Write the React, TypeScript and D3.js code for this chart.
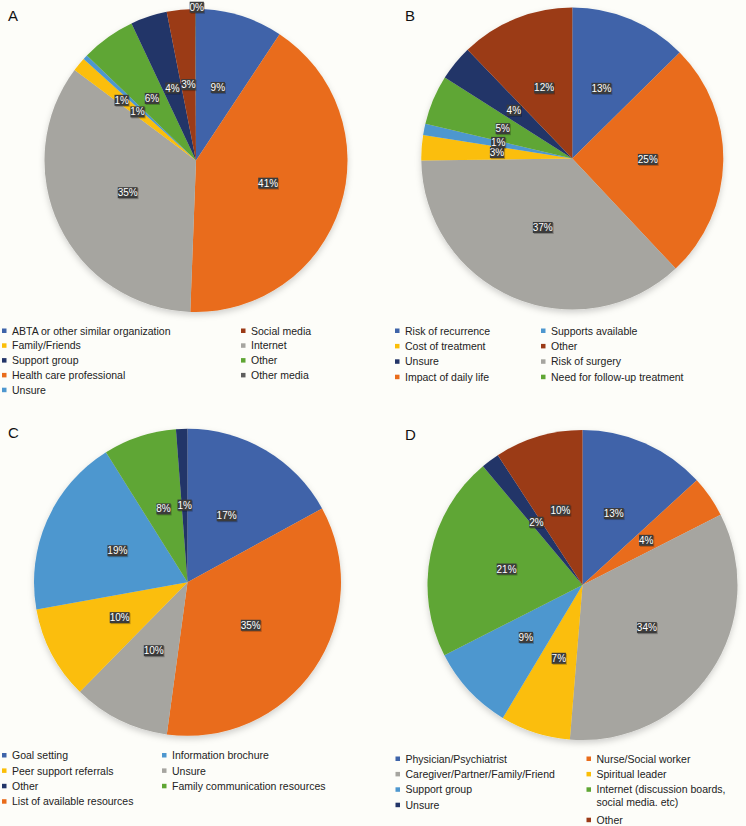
import React from 'react';
import * as d3 from 'd3';

// colours used across the four panels (Excel office palette)
const BLUE = '#3f64a9';
const ORANGE = '#e96c1b';
const GRAY = '#a6a5a0';
const YELLOW = '#fbbe07';
const LIGHTBLUE = '#4e97cf';
const GREEN = '#5fa634';
const NAVY = '#233568';
const BROWN = '#9b3a17';
const DARKGRAY = '#5e5e5e';

// Panel A - sources of information
const aNames = [
  'ABTA or other similar organization',
  'Health care professional',
  'Internet',
  'Family/Friends',
  'Unsure',
  'Other',
  'Support group',
  'Social media',
  'Other media',
];
const aValues = [9.3, 41.3, 34.6, 1.5, 0.5, 5.8, 3.9, 3.0, 0.1];
const aLabels = ['9%', '41%', '35%', '1%', '1%', '6%', '4%', '3%', '0%'];
const aColors = [BLUE, ORANGE, GRAY, YELLOW, LIGHTBLUE, GREEN, NAVY, BROWN, DARKGRAY];
const aLegendLeft = ['ABTA or other similar organization', 'Family/Friends', 'Support group', 'Health care professional', 'Unsure'];
const aLegendRight = ['Social media', 'Internet', 'Other', 'Other media'];

// Panel B - concerns
const bNames = [
  'Risk of recurrence',
  'Impact of daily life',
  'Risk of surgery',
  'Cost of treatment',
  'Supports available',
  'Need for follow-up treatment',
  'Unsure',
  'Other',
];
const bValues = [12.6, 25.4, 36.8, 2.7, 1.2, 5.3, 3.8, 12.2];
const bLabels = ['13%', '25%', '37%', '3%', '1%', '5%', '4%', '12%'];
const bColors = [BLUE, ORANGE, GRAY, YELLOW, LIGHTBLUE, GREEN, NAVY, BROWN];
const bLegendLeft = ['Risk of recurrence', 'Cost of treatment', 'Unsure', 'Impact of daily life'];
const bLegendRight = ['Supports available', 'Other', 'Risk of surgery', 'Need for follow-up treatment'];

// Panel C - helpful resources
const cNames = [
  'Goal setting',
  'List of available resources',
  'Unsure',
  'Peer support referrals',
  'Information brochure',
  'Family communication resources',
  'Other',
];
const cValues = [17.0, 35.1, 10.2, 9.8, 18.9, 7.7, 1.2];
const cLabels = ['17%', '35%', '10%', '10%', '19%', '8%', '1%'];
const cColors = [BLUE, ORANGE, GRAY, YELLOW, LIGHTBLUE, GREEN, NAVY];
const cLegendLeft = ['Goal setting', 'Peer support referrals', 'Other', 'List of available resources'];
const cLegendRight = ['Information brochure', 'Unsure', 'Family communication resources'];

// Panel D - who provides support
const dNames = [
  'Physician/Psychiatrist',
  'Nurse/Social worker',
  'Caregiver/Partner/Family/Friend',
  'Spiritual leader',
  'Support group',
  'Internet (discussion boards,\nsocial media. etc)',
  'Unsure',
  'Other',
];
const dValues = [13.2, 4.3, 33.8, 7.3, 8.9, 21.4, 1.9, 9.2];
const dLabels = ['13%', '4%', '34%', '7%', '9%', '21%', '2%', '10%'];
const dColors = [BLUE, ORANGE, GRAY, YELLOW, LIGHTBLUE, GREEN, NAVY, BROWN];
const dLegendLeft = ['Physician/Psychiatrist', 'Caregiver/Partner/Family/Friend', 'Support group', 'Unsure'];
const dLegendRight = ['Nurse/Social worker', 'Spiritual leader', 'Internet (discussion boards,\nsocial media. etc)', 'Other'];

const FONT = '"Liberation Sans", Arial, Helvetica, sans-serif';

type Panel = {
  letter: string;
  letterX: number;
  letterY: number;
  cx: number;
  cy: number;
  r: number;
  names: string[];
  values: number[];
  labels: string[];
  colors: string[];
  // label nudges for crowded slices
  nudges?: Record<number, [number, number]>;
  legendLeft: string[];
  legendRight: string[];
  legendX: [number, number];
  legendY: number;
  legendStep: number;
};

const panels: Panel[] = [
  {
    letter: 'A', letterX: 8, letterY: 21, cx: 196, cy: 160.5, r: 151.5,
    names: aNames, values: aValues, labels: aLabels, colors: aColors,
    nudges: { 4: [-19, -8], 8: [1, -77] },
    legendLeft: aLegendLeft, legendRight: aLegendRight,
    legendX: [2, 241], legendY: 331, legendStep: 14.8,
  },
  {
    letter: 'B', letterX: 405, letterY: 21, cx: 572.3, cy: 158.5, r: 151,
    names: bNames, values: bValues, labels: bLabels, colors: bColors,
    nudges: { 4: [0, -1] },
    legendLeft: bLegendLeft, legendRight: bLegendRight,
    legendX: [395, 541], legendY: 331, legendStep: 15.4,
  },
  {
    letter: 'C', letterX: 8, letterY: 438, cx: 187.5, cy: 582.3, r: 153.5,
    names: cNames, values: cValues, labels: cLabels, colors: cColors,
    legendLeft: cLegendLeft, legendRight: cLegendRight,
    legendX: [2, 162], legendY: 755.5, legendStep: 15.4,
  },
  {
    letter: 'D', letterX: 405, letterY: 440, cx: 582.5, cy: 585, r: 155,
    names: dNames, values: dValues, labels: dLabels, colors: dColors,
    legendLeft: dLegendLeft, legendRight: dLegendRight,
    legendX: [395.5, 586.5], legendY: 759, legendStep: 15.4,
  },
];

function PiePanel({ p }: { p: Panel }) {
  const data = p.names.map((n, i) => ({ name: n, value: p.values[i], label: p.labels[i], color: p.colors[i], i }));
  const pie = d3.pie<any>().sort(null).value((d) => d.value);
  const arcs = pie(data);
  const arc = d3.arc<any>().innerRadius(0).outerRadius(p.r);
  const colorOf = (name: string) => p.colors[p.names.indexOf(name)];

  const legendColumn = (items: string[], x: number) => {
    let y = p.legendY;
    return items.map((name) => {
      const lines = name.split('\n');
      const g = (
        <g key={name} transform={`translate(${x},${y})`}>
          <rect x={0} y={-2.5} width={4.5} height={4.5} fill={colorOf(name)} />
          <text x={10} y={0} fontSize={10.5} fill="#222" fontFamily={FONT}>
            {lines.map((l, k) => (
              <tspan key={k} x={10} dy={k === 0 ? '0.35em' : 12.6}>{l}</tspan>
            ))}
          </text>
        </g>
      );
      y += p.legendStep + (lines.length - 1) * 15;
      return g;
    });
  };

  return (
    <g>
      <text x={p.letterX} y={p.letterY} fontSize={15} fill="#111" fontFamily={FONT}>{p.letter}</text>
      <g transform={`translate(${p.cx},${p.cy})`}>
        <g filter="url(#pieShadow)">
          {arcs.map((a) => (
            <path key={a.data.i} d={arc(a) as string} fill={a.data.color} />
          ))}
        </g>
        {arcs.map((a) => {
          const [x0, y0] = arc.centroid(a);
          const n = (p.nudges && p.nudges[a.data.i]) || [0, 0];
          const x = x0 + n[0];
          const y = y0 + n[1];
          const w = a.data.label.length * 5.6 + 3;
          return (
            <g key={'l' + a.data.i} transform={`translate(${x},${y})`}>
              <rect x={-w / 2 + 1} y={-5} width={w} height={11} fill="#000" opacity={0.25} />
              <rect x={-w / 2} y={-6} width={w} height={11} fill="#3b3b3b" />
              <text x={0} y={0} dy="0.3em" textAnchor="middle" fontSize={10} fill="#fff" fontFamily={FONT}>
                {a.data.label}
              </text>
            </g>
          );
        })}
      </g>
      {legendColumn(p.legendLeft, p.legendX[0])}
      {legendColumn(p.legendRight, p.legendX[1])}
    </g>
  );
}

export default function App() {
  return (
    <svg
      width={746}
      height={826}
      style={{ position: 'absolute', left: 0, top: 0, background: '#fdfdf9' }}
    >
      <defs>
        <filter id="pieShadow" x="-20%" y="-20%" width="140%" height="140%">
          <feDropShadow dx={0} dy={3} stdDeviation={3} floodColor="#000" floodOpacity={0.18} />
        </filter>
      </defs>
      <rect width={746} height={826} fill="#fdfdf9" />
      {panels.map((p) => (
        <PiePanel key={p.letter} p={p} />
      ))}
    </svg>
  );
}
